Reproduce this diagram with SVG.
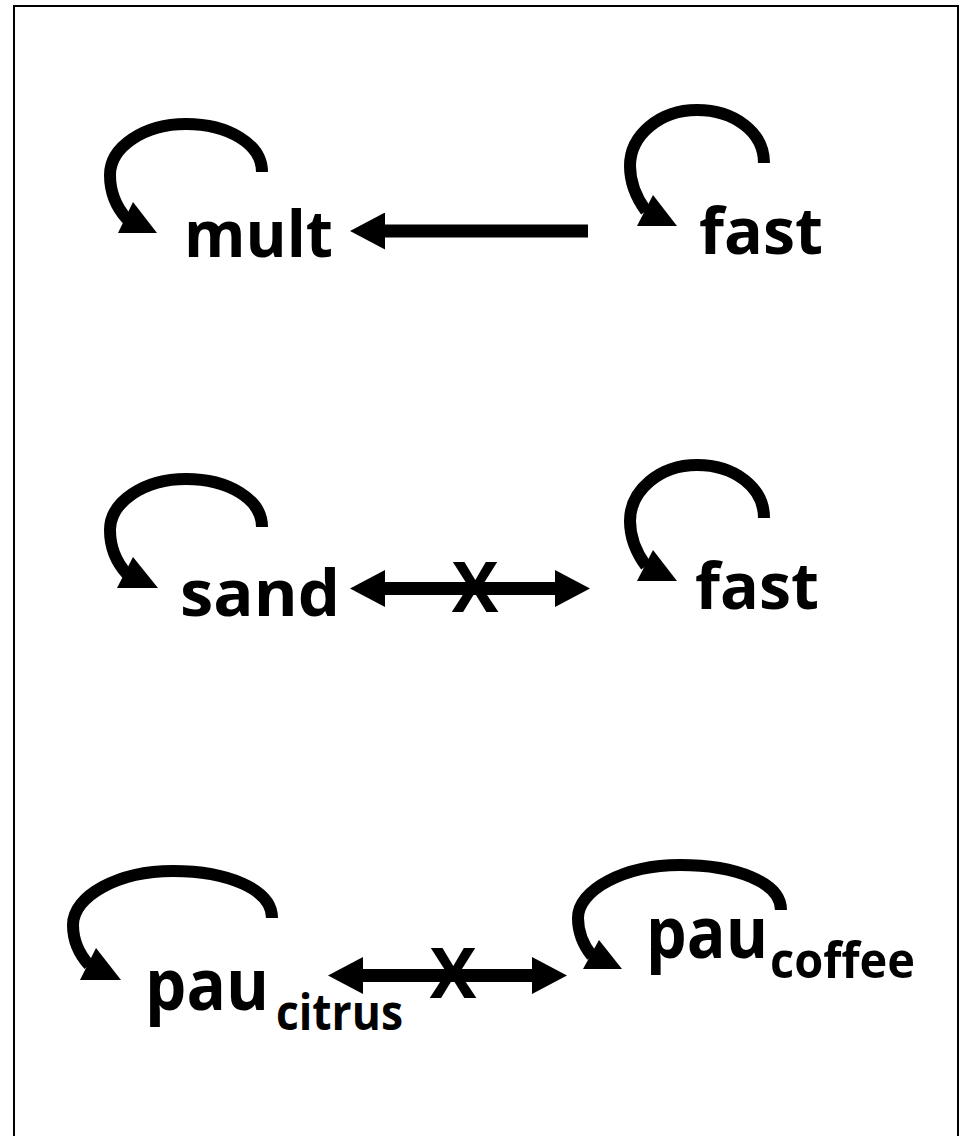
<svg xmlns="http://www.w3.org/2000/svg" width="961" height="1136" viewBox="0 0 961 1136">
  <style>
    .frame { fill: none; stroke: #000; stroke-width: 2; }
    .label { font-family: "Open Sans", "Liberation Sans", sans-serif; font-weight: 700; fill: #000; }
    .main { font-size: 64px; }
    .big { font-size: 72px; }
    .sub { font-size: 50px; }
    .cross { font-size: 70px; text-anchor: middle; }
    .loop { fill: none; stroke: #000; stroke-width: 12; stroke-linecap: butt; }
    .head { fill: #000; }
    .edge { fill: none; stroke: #000; stroke-width: 13; }
  </style>
  <defs>
    <marker id="arrow" viewBox="0 0 35 37" refX="0" refY="18.5" markerWidth="35" markerHeight="37" markerUnits="userSpaceOnUse" orient="auto-start-reverse">
      <path d="M0,0 L35,18.5 L0,37 Z" fill="#000"/>
    </marker>
  </defs>

  <rect class="frame" x="14" y="6" width="944" height="1140"/>

  <!-- row 1 -->
  <g id="node-mult">
    <path class="loop" d="M262,172 C262,144 228,124 186,124 C144,124 110,147 110,175 C110,193 117,208 127,219"/>
    <polygon class="head" points="133,202 118,233 157,233"/>
    <text class="label main" x="184" y="257" textLength="149" lengthAdjust="spacingAndGlyphs">mult</text>
  </g>
  <g id="node-fast-1">
    <path class="loop" d="M764,163 C764,132 734,110 697,110 C660,110 630,135 630,166 C630,184 638,200 646,211"/>
    <polygon class="head" points="653,195 637,226 677,226"/>
    <text class="label main" x="699" y="254" textLength="124" lengthAdjust="spacingAndGlyphs">fast</text>
  </g>

  <!-- row 2 -->
  <g id="node-sand">
    <path class="loop" d="M262,527 C262,499 228,479 186,479 C144,479 110,502 110,530 C110,548 117,563 127,574"/>
    <polygon class="head" points="133,557 117,588 158,588"/>
    <text class="label main" x="180" y="616" textLength="160" lengthAdjust="spacingAndGlyphs">sand</text>
  </g>
  <g id="node-fast-2">
    <path class="loop" d="M764,518 C764,487 734,465 697,465 C660,465 630,490 630,521 C630,539 638,555 646,566"/>
    <polygon class="head" points="653,550 637,581 677,581"/>
    <text class="label main" x="695" y="609" textLength="124" lengthAdjust="spacingAndGlyphs">fast</text>
  </g>

  <!-- row 3 -->
  <g id="node-pau-citrus">
    <path class="loop" d="M272,918 C272,889 227,871 173,871 C118,871 73,896 73,925 C73,943 80,955 89,965"/>
    <polygon class="head" points="96,948 80,980 121,980"/>
    <text class="label big" x="145" y="1010" textLength="124" lengthAdjust="spacingAndGlyphs">pau</text>
    <text class="label sub" x="276" y="1030" textLength="127" lengthAdjust="spacingAndGlyphs">citrus</text>
  </g>
  <g id="node-pau-coffee">
    <path class="loop" d="M781,910 C781,882 735,865 680,865 C624,865 578,890 578,918 C578,935 584,946 592,956"/>
    <polygon class="head" points="599,940 583,969 622,969"/>
    <text class="label big" x="646" y="958" textLength="122" lengthAdjust="spacingAndGlyphs">pau</text>
    <text class="label sub" x="770" y="978" textLength="145" lengthAdjust="spacingAndGlyphs">coffee</text>
  </g>

  <!-- connectors -->
  <g id="connectors">
    <line class="edge" x1="588" y1="231" x2="385" y2="231" marker-end="url(#arrow)"/>
    <line class="edge" x1="385" y1="588.5" x2="555" y2="588.5" marker-start="url(#arrow)" marker-end="url(#arrow)"/>
    <text class="label cross" x="475" y="612">X</text>
    <line class="edge" x1="363" y1="975.5" x2="532" y2="975.5" marker-start="url(#arrow)" marker-end="url(#arrow)"/>
    <text class="label cross" x="453" y="998">X</text>
  </g>
</svg>
